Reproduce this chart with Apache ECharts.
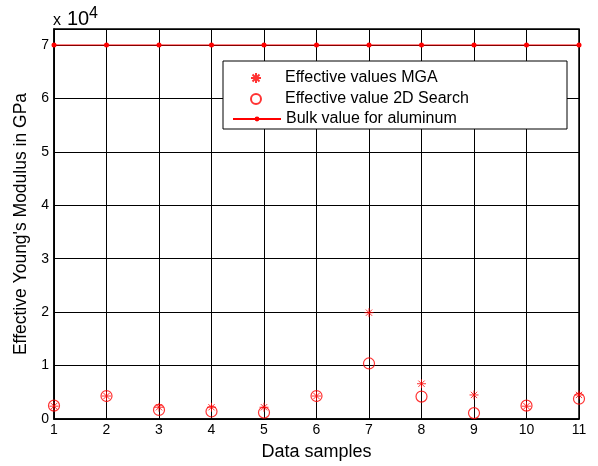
<!DOCTYPE html>
<html>
<head>
<meta charset="utf-8">
<script src="https://cdn.jsdelivr.net/npm/echarts@6/dist/echarts.min.js"></script>
<style>
  html, body { margin: 0; padding: 0; background: #ffffff; }
  #chart { width: 598px; height: 466px; }
</style>
</head>
<body>
<div id="chart"></div>
<script>
// data (GPa)
var samples = [1, 2, 3, 4, 5, 6, 7, 8, 9, 10, 11]
var mgaValues = [2400, 4300, 2200, 2200, 2200, 4300, 19900, 6600, 4500, 2400, 4500]
var searchValues = [2500, 4300, 1700, 1400, 1200, 4300, 10400, 4200, 1100, 2500, 3800]
var bulkValues = [70000, 70000, 70000, 70000, 70000, 70000, 70000, 70000, 70000, 70000, 70000]

function pairs(vals) {
  var out = []
  for (var i = 0; i < samples.length; i++) {
    out.push([samples[i], vals[i]])
  }
  return out
}

var font = 'Liberation Sans, Arial, Helvetica, sans-serif'
// matlab style asterisk marker
var starPath = 'path://M0,-1L0,1M-1,0L1,0M-0.7,-0.7L0.7,0.7M-0.7,0.7L0.7,-0.7'

var myChart = echarts.init(document.getElementById('chart'), null, { renderer: 'canvas' })

var legendText = { fontSize: 16, color: '#000000', lineHeight: 18, fontFamily: font }

var option = {
  backgroundColor: '#ffffff',
  animation: false,
  textStyle: { fontFamily: font },
  grid: {
    left: 54,
    right: 19,
    top: 29,
    bottom: 45,
    show: true,
    borderColor: '#000000',
    borderWidth: 1.5,
    backgroundColor: 'transparent'
  },
  graphic: [
    {
      type: 'rect',
      z: 3,
      shape: { x: 223, y: 61, width: 344, height: 68 },
      style: { fill: '#ffffff', stroke: '#000000', lineWidth: 1 }
    },
    { type: 'text', z: 5, x: 53, y: 13, style: { text: 'x', fontSize: 16, fontFamily: font, fill: '#000' } },
    { type: 'text', z: 5, x: 67, y: 9, style: { text: '10', fontSize: 20, fontFamily: font, fill: '#000' } },
    { type: 'text', z: 5, x: 89, y: 6, style: { text: '4', fontSize: 16, fontFamily: font, fill: '#000' } }
  ],
  legend: [
    {
      z: 4,
      orient: 'vertical',
      left: 250,
      top: 69,
      padding: 0,
      itemWidth: 48,
      itemHeight: 10,
      itemGap: 3,
      textStyle: legendText,
      data: ['Effective values MGA', 'Effective value 2D Search']
    },
    {
      z: 4,
      orient: 'vertical',
      left: 232,
      top: 110,
      padding: 0,
      itemWidth: 48,
      itemHeight: 6,
      textStyle: legendText,
      data: ['Bulk value for aluminum']
    }
  ],
  xAxis: {
    type: 'value',
    min: 1,
    max: 11,
    interval: 1,
    name: 'Data samples',
    nameLocation: 'middle',
    nameGap: 24,
    nameTextStyle: { fontSize: 18, color: '#000000' },
    axisLine: { show: true, lineStyle: { color: '#000000', width: 1.5 } },
    axisTick: { show: false },
    axisLabel: { fontSize: 14, color: '#000000', margin: 4 },
    splitLine: { show: true, lineStyle: { color: '#000000', width: 1 } }
  },
  yAxis: {
    type: 'value',
    min: 0,
    max: 73000,
    interval: 10000,
    name: "Effective Young's Modulus in GPa",
    nameLocation: 'middle',
    nameGap: 24,
    nameTextStyle: { fontSize: 17.5, color: '#000000' },
    axisLine: { show: true, lineStyle: { color: '#000000', width: 1.5 } },
    axisTick: { show: false },
    axisLabel: {
      fontSize: 14,
      color: '#000000',
      margin: 5,
      showMaxLabel: false,
      formatter: function(value) {
        return String(value / 10000)
      }
    },
    splitLine: { show: true, lineStyle: { color: '#000000', width: 1 } }
  },
  series: [
    {
      name: 'Effective values MGA',
      type: 'scatter',
      symbol: starPath,
      symbolSize: 9,
      itemStyle: { color: 'rgba(0,0,0,0)', borderColor: '#ff0000', borderWidth: 1 },
      data: pairs(mgaValues)
    },
    {
      name: 'Effective value 2D Search',
      type: 'scatter',
      symbol: 'circle',
      symbolSize: 11,
      itemStyle: { color: 'rgba(0,0,0,0)', borderColor: '#ff0000', borderWidth: 1.2 },
      data: pairs(searchValues)
    },
    {
      name: 'Bulk value for aluminum',
      type: 'line',
      symbol: 'circle',
      symbolSize: 5,
      showAllSymbol: true,
      lineStyle: { color: '#ff0000', width: 1 },
      itemStyle: { color: '#ff0000' },
      data: pairs(bulkValues)
    }
  ]
}

myChart.setOption(option, true)
window.addEventListener('resize', () => {
  myChart.resize()
})
</script>
</body>
</html>
